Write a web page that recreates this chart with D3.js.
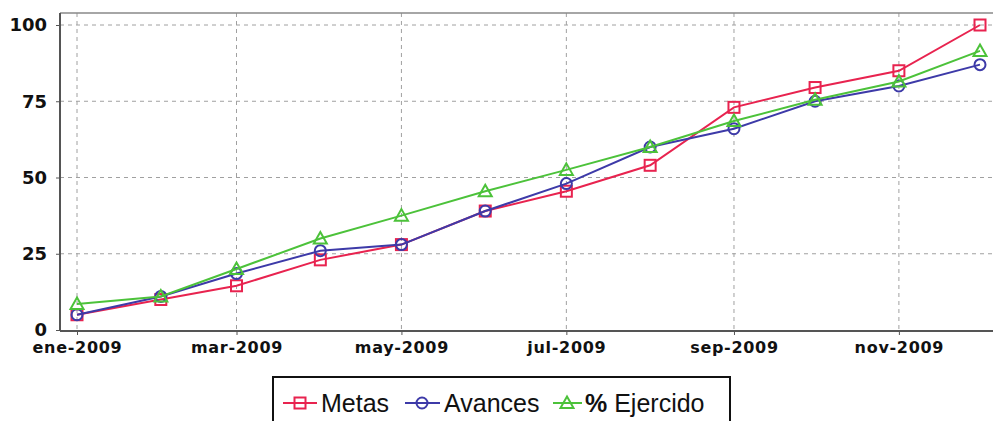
<!DOCTYPE html>
<html><head><meta charset="utf-8">
<script src="https://cdn.jsdelivr.net/npm/d3@7"></script>
<style>html,body{margin:0;padding:0;background:#fff;overflow:hidden}</style>
</head><body>
<svg id="c" width="993" height="421"></svg>
<script>
const monthNames = ["ene","feb","mar","abr","may","jun","jul","ago","sep","oct","nov","dic"];
const year = 2009;
const metas    = [5, 10, 14.5, 23, 28, 39, 45.5, 54, 73, 79.5, 85, 100];
const avances  = [5, 11, 18.5, 26, 28, 39, 48, 60, 66, 75, 80, 87];
const ejercido = [8.5, 11, 20, 30, 37.5, 45.5, 52.5, 60, 68.5, 75.5, 81.5, 91.5];
const yTicks = [0, 25, 50, 75, 100];
const xTickMonths = [0, 2, 4, 6, 8, 10];
const seriesNames = ["Metas", "Avances", "% Ejercido"];
const seriesColors = ["#e8234f", "#3d3aa8", "#4cc23a"];

const svg = d3.select("#c");
const L = 60, R = 993, T = 13, B = 331;
const dates = monthNames.map((m, i) => new Date(Date.UTC(year, i, 1)));
const x = d3.scaleUtc().domain([dates[0], dates[11]]).range([77, 980]);
const y = d3.scaleLinear().domain([0, 100]).range([330, 25]);

// grid
const g = svg.append("g");
g.selectAll("line.hg").data(yTicks.filter(v => v > 0)).enter().append("line")
  .attr("x1", L).attr("x2", R).attr("y1", d => y(d)).attr("y2", d => y(d))
  .attr("stroke", "#a0a0a0").attr("stroke-width", 1).attr("stroke-dasharray", "4,4");
g.selectAll("line.vg").data(xTickMonths).enter().append("line")
  .attr("x1", d => x(dates[d])).attr("x2", d => x(dates[d])).attr("y1", T).attr("y2", B)
  .attr("stroke", "#a0a0a0").attr("stroke-width", 1).attr("stroke-dasharray", "4,4");

// frame top
svg.append("line").attr("x1", L).attr("x2", R).attr("y1", T).attr("y2", T)
  .attr("stroke", "#888").attr("stroke-width", 1.5);

// axes
const yAxis = d3.axisLeft(y).tickValues(yTicks).tickSize(4).tickPadding(9);
const ya = svg.append("g").attr("transform", `translate(${L},0)`).call(yAxis);
ya.select(".domain").attr("d", `M0,${T}V${B}`).attr("stroke", "#555").attr("stroke-width", 2);
ya.selectAll(".tick line").attr("stroke", "#555");
ya.selectAll("text").attr("font-family", "DejaVu Sans").attr("font-weight", "bold")
  .attr("font-size", 18).attr("fill", "#111");

const xAxis = d3.axisBottom(x).tickValues(xTickMonths.map(i => dates[i]))
  .tickFormat(d => monthNames[d.getUTCMonth()] + "-" + d.getUTCFullYear())
  .tickSize(4).tickPadding(7);
const xa = svg.append("g").attr("transform", `translate(0,${B})`).call(xAxis);
xa.select(".domain").attr("d", `M${L},0H${R}`).attr("stroke", "#555").attr("stroke-width", 2);
xa.selectAll(".tick line").attr("stroke", "#555");
xa.selectAll("text").attr("font-family", "DejaVu Sans").attr("font-weight", "bold")
  .attr("font-size", 16).attr("letter-spacing", "0.7px").attr("fill", "#111");

// series
const allSeries = [metas, avances, ejercido];
function marker(sel, k, cx, cy) {
  const c = seriesColors[k];
  if (k === 0) {
    sel.append("rect").attr("x", cx - 5.5).attr("y", cy - 5.5).attr("width", 11).attr("height", 11)
      .attr("fill", "none").attr("stroke", c).attr("stroke-width", 2);
  } else if (k === 1) {
    sel.append("circle").attr("cx", cx).attr("cy", cy).attr("r", 5.5)
      .attr("fill", "none").attr("stroke", c).attr("stroke-width", 2);
  } else {
    sel.append("path").attr("d", `M${cx},${cy - 6.5}L${cx + 6.5},${cy + 5}L${cx - 6.5},${cy + 5}Z`)
      .attr("fill", "none").attr("stroke", c).attr("stroke-width", 2);
  }
}
const line = d3.line().x((d, i) => x(dates[i])).y(d => y(d));
allSeries.forEach((s, k) => {
  const sg = svg.append("g");
  sg.append("path").attr("d", line(s)).attr("fill", "none")
    .attr("stroke", seriesColors[k]).attr("stroke-width", 2);
  s.forEach((v, i) => marker(sg, k, x(dates[i]), y(v)));
});

// legend
const lg = svg.append("g");
lg.append("rect").attr("x", 273).attr("y", 377).attr("width", 457).attr("height", 60)
  .attr("fill", "#fff").attr("stroke", "#111").attr("stroke-width", 2);
const legendItems = [
  {lx1: 283, lx2: 317, mx: 300, tx: 321},
  {lx1: 405, lx2: 440, mx: 422, tx: 444},
  {lx1: 553, lx2: 582, mx: 567, tx: 585}
];
legendItems.forEach((it, k) => {
  const cy = 403;
  lg.append("line").attr("x1", it.lx1).attr("x2", it.lx2).attr("y1", cy).attr("y2", cy)
    .attr("stroke", seriesColors[k]).attr("stroke-width", 2);
  marker(lg, k, it.mx, cy);
  const t = lg.append("text").attr("x", it.tx).attr("y", cy + 9)
    .attr("font-family", "Liberation Sans, Arial").attr("font-size", 25).attr("fill", "#111");
  const name = seriesNames[k];
  if (name.startsWith("%")) {
    t.append("tspan").attr("font-weight", "bold").text("%");
    t.append("tspan").text(name.slice(1));
  } else {
    t.text(name);
  }
});
</script>
</body></html>
